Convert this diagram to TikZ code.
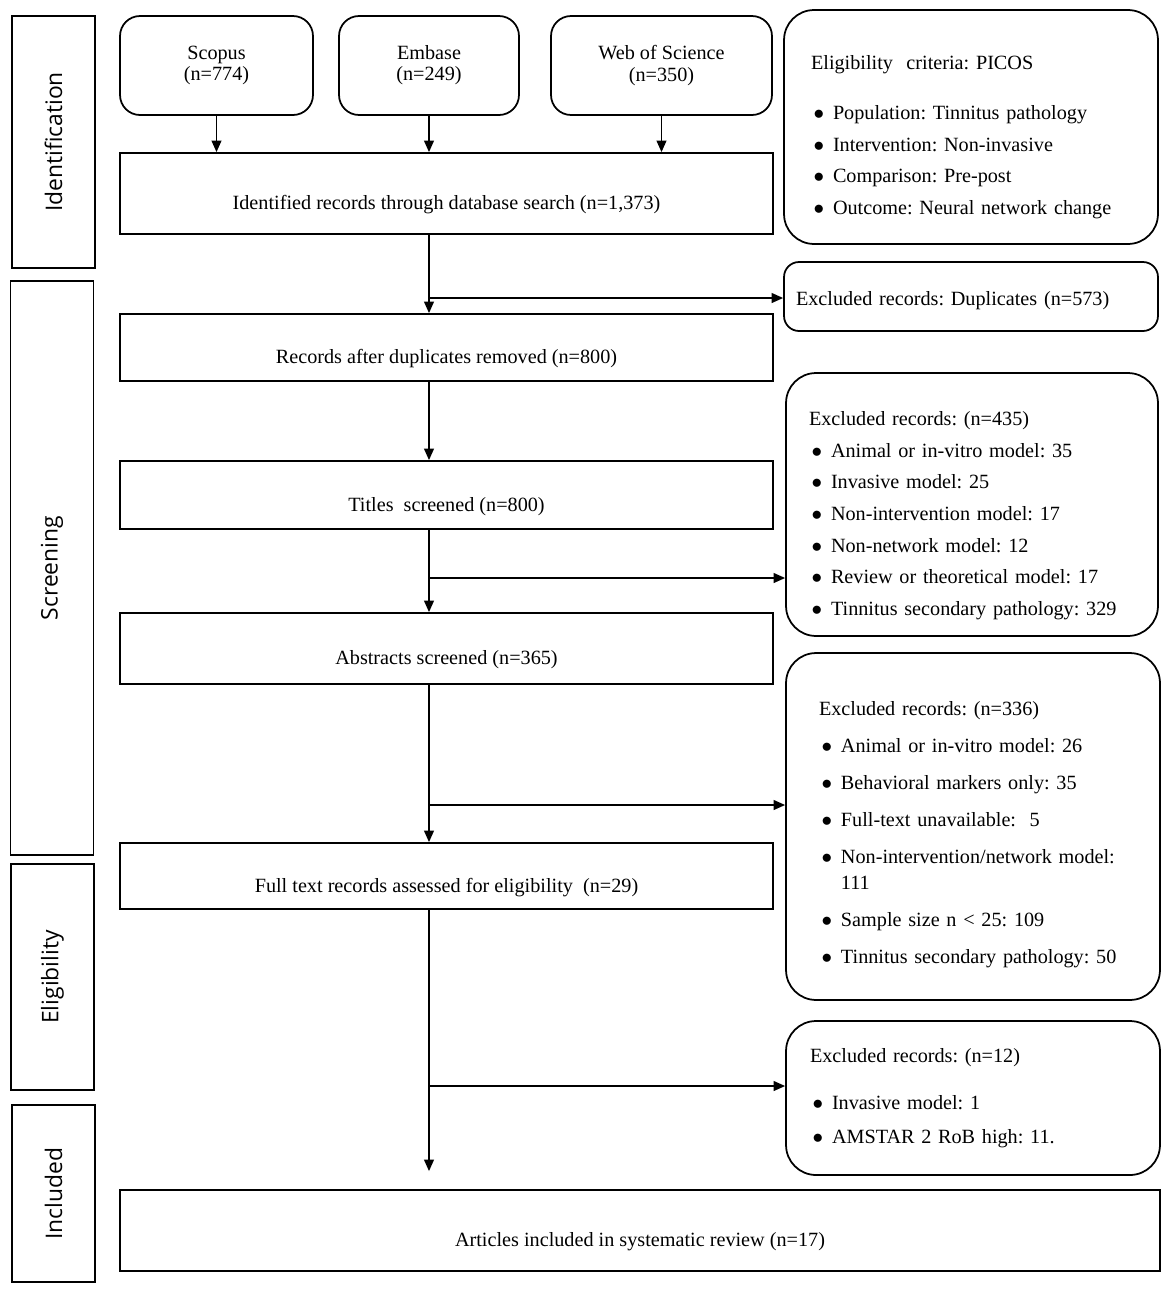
\documentclass[tikz,border=0pt]{standalone}
\usepackage{fontspec}
\setmainfont{Liberation Serif}
\newfontfamily\phasefont{Open Sans}
\usetikzlibrary{arrows.meta}
\frenchspacing
\newcommand{\bul}{\hspace{1.5pt}$\bullet$}

\begin{document}
\begin{tikzpicture}[x=0.02cm, y=-0.02cm, line width=1pt,
  >={Triangle[length=6.5pt,width=5.5pt]},
  phase/.style={draw, rotate=90, minimum height=1.66cm, font=\phasefont\fontsize{13}{15}\selectfont},
  source/.style={draw, rounded corners=0.4cm, align=center, minimum height=1.98cm, font=\fontsize{11.5}{12}\selectfont},
  stage/.style={draw, minimum width=13.06cm, text height=21.5pt, text depth=3pt, font=\fontsize{11.5}{14}\selectfont},
  excluded/.style={draw, rounded corners=0.6cm, align=left, font=\fontsize{11.5}{14}\selectfont}]
\useasboundingbox (0,0) rectangle (1170,1292);

%% phases
\node[phase, minimum width=5.04cm] (identification) at (53.5,142) {Identification};
\node[phase, minimum width=11.48cm] (screening) at (52,568) {Screening};
\node[phase, minimum width=4.52cm] (eligibility) at (52.5,977) {Eligibility};
\node[phase, minimum width=3.54cm] (included) at (53.5,1193.5) {Included};

%% databases
\node[source, minimum width=3.86cm] (Scopus) at (216.5,65.5) {Scopus\\(n=774)};
\node[source, minimum width=3.6cm] (Embase) at (429,65.5) {Embase\\(n=249)};
\node[source, minimum width=4.42cm] (Web of Science) at (661.5,65.5) {Web of Science\\(n=350)};

%% main flow
\node[stage, minimum height=1.62cm] (identified records) at (446.5,193.5) {Identified records through database search (n=1,373)};
\node[stage, minimum height=1.34cm] (records after duplicates) at (446.5,347.5) {Records after duplicates removed (n=800)};
\node[stage, minimum height=1.36cm] (titles screened) at (446.5,495) {Titles\ \ screened (n=800)};
\node[stage, minimum height=1.42cm] (abstracts screened) at (446.5,648.5) {Abstracts screened (n=365)};
\node[stage, minimum height=1.32cm] (full text records) at (446.5,876) {Full text records assessed for eligibility\ \ (n=29)};
\node[stage, minimum width=20.8cm, minimum height=1.62cm] (articles included) at (640,1230.5) {Articles included in systematic review (n=17)};

%% side boxes
\node[excluded, minimum width=7.48cm, minimum height=4.68cm, inner xsep=0.54cm, text width=6.4cm] (picos) at (971,127) {%
\begin{tabular}{@{}l@{\hspace{5pt}}l@{}}
\multicolumn{2}{@{}l@{}}{\rule{0pt}{21.2pt}Eligibility\ \ criteria: PICOS}\\[14.5pt]
\bul & Population: Tinnitus pathology\\[4pt]
\bul & Intervention: Non-invasive\\[4pt]
\bul & Comparison: Pre-post\\[4pt]
\bul & Outcome: Neural network change
\end{tabular}};
\node[excluded, rounded corners=0.3cm, minimum width=7.48cm, minimum height=1.38cm, inner xsep=0.24cm, text width=7cm] (duplicates) at (971,296.5) {\rule{0pt}{13.1pt}Excluded records: Duplicates (n=573)};
\node[excluded, minimum width=7.44cm, minimum height=5.26cm, inner xsep=0.46cm, text width=6.52cm] (titles excluded) at (972,504.5) {%
\begin{tabular}{@{}l@{\hspace{5pt}}l@{}}
\multicolumn{2}{@{}l@{}}{\rule{0pt}{22.3pt}Excluded records: (n=435)}\\[4pt]
\bul & Animal or in-vitro model: 35\\[4pt]
\bul & Invasive model: 25\\[4pt]
\bul & Non-intervention model: 17\\[4pt]
\bul & Non-network model: 12\\[4pt]
\bul & Review or theoretical model: 17\\[4pt]
\bul & Tinnitus secondary pathology: 329
\end{tabular}};
\node[excluded, minimum width=7.48cm, minimum height=6.94cm, inner xsep=0.66cm, text width=6.16cm] (abstracts excluded) at (973,826.5) {%
\begin{tabular}{@{}l@{\hspace{5pt}}l@{}}
\multicolumn{2}{@{}l@{}}{\rule{0pt}{18.9pt}Excluded records: (n=336)}\\[7pt]
\bul & Animal or in-vitro model: 26\\[7pt]
\bul & Behavioral markers only: 35\\[7pt]
\bul & Full-text unavailable:\ \ 5\\[7pt]
\bul & Non-intervention/network model:\\[1pt]
 & 111\\[7pt]
\bul & Sample size n < 25: 109\\[7pt]
\bul & Tinnitus secondary pathology: 50
\end{tabular}};
\node[excluded, minimum width=7.48cm, minimum height=3.08cm, inner xsep=0.48cm, text width=6.52cm] (full text excluded) at (973,1098) {%
\begin{tabular}{@{}l@{\hspace{5pt}}l@{}}
\multicolumn{2}{@{}l@{}}{Excluded records: (n=12)}\\[13pt]
\bul & Invasive model: 1\\[5pt]
\bul & AMSTAR 2 RoB high: 11.
\end{tabular}};

%% connectors
\draw[->] (Scopus) -- (Scopus |- identified records.north);
\draw[->] (Embase) -- (Embase |- identified records.north);
\draw[->] (Web of Science) -- (Web of Science |- identified records.north);

\coordinate (duplicate split) at (429,298);
\coordinate (title split) at (429,578);
\coordinate (abstract split) at (429,805);
\coordinate (full text split) at (429,1086);

\draw[->] (identified records.south -| Embase) -- (records after duplicates.north -| Embase);
\draw[->] (duplicate split) -- (duplicate split -| duplicates.west);
\draw[->] (records after duplicates.south -| Embase) -- (titles screened.north -| Embase);
\draw[->] (titles screened.south -| Embase) -- (abstracts screened.north -| Embase);
\draw[->] (title split) -- (title split -| titles excluded.west);
\draw[->] (abstracts screened.south -| Embase) -- (full text records.north -| Embase);
\draw[->] (abstract split) -- (abstract split -| abstracts excluded.west);
\draw[->, shorten >=0.36cm] (full text records.south -| Embase) -- (articles included.north -| Embase);
\draw[->] (full text split) -- (full text split -| full text excluded.west);
\end{tikzpicture}
\end{document}
